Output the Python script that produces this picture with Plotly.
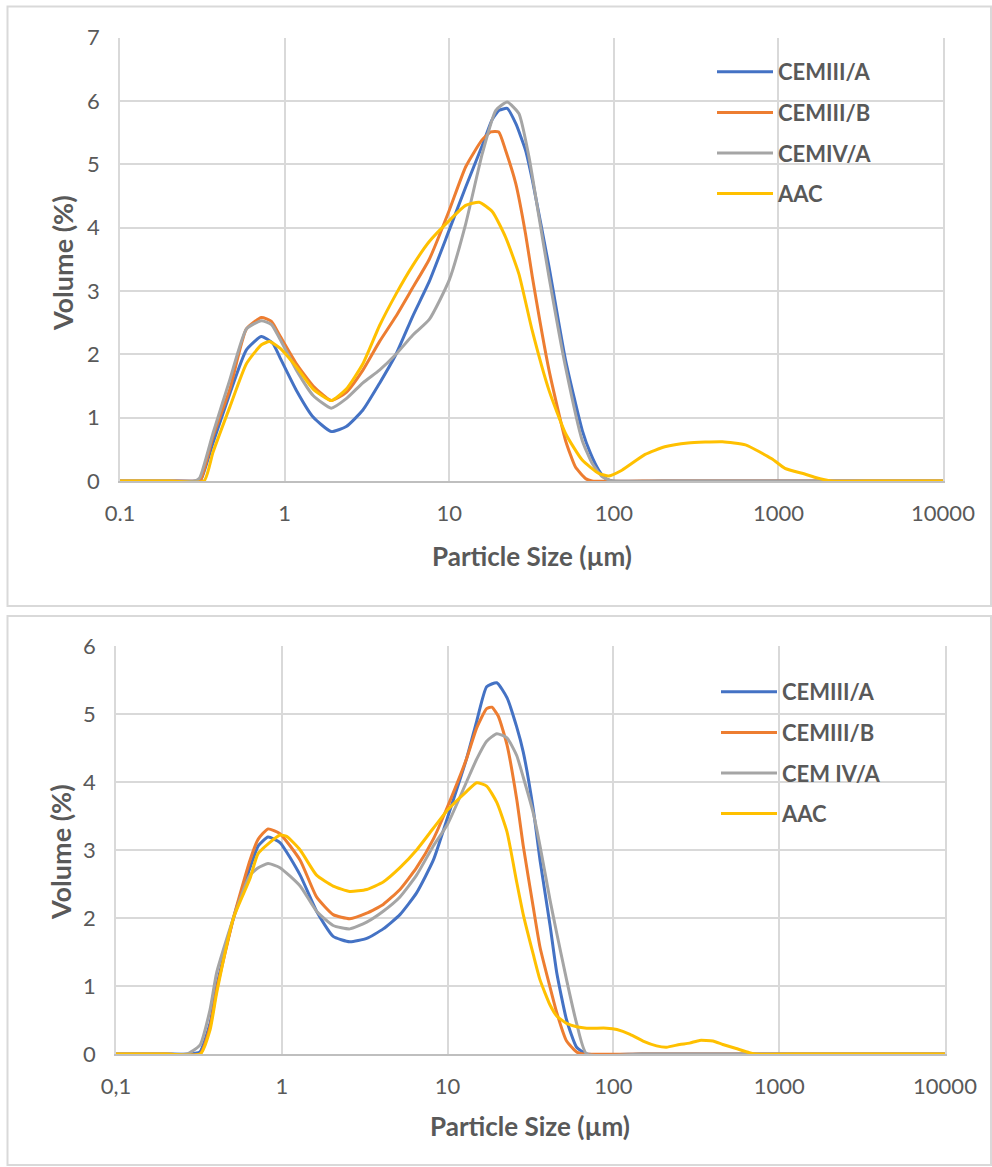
import plotly.graph_objects as go

# ---------------- data: top panel ----------------
top_cem3a_size = [0.1, 0.2, 0.295, 0.31, 0.367, 0.465, 0.586, 0.723, 0.849, 0.933, 1.18, 1.49, 1.92, 2.37, 2.99, 3.77, 4.75, 6.0, 7.57, 10.0, 12.6, 15.9, 18.2, 20.1, 22.5, 25.4, 29.1, 32.0, 40.4, 50.9, 64.3, 72.1, 81.1, 89.1, 97.7, 200, 1000, 10000]
top_cem3a_vol  = [0, 0, 0, 0.02, 0.6, 1.38, 2.07, 2.28, 2.17, 1.96, 1.43, 1.01, 0.78, 0.86, 1.12, 1.54, 2.0, 2.6, 3.15, 3.96, 4.64, 5.3, 5.7, 5.85, 5.88, 5.64, 5.22, 4.75, 3.38, 1.91, 0.8, 0.44, 0.17, 0.04, 0, 0, 0, 0]

top_cem3b_size = [0.1, 0.2, 0.295, 0.31, 0.367, 0.465, 0.586, 0.723, 0.832, 0.933, 1.18, 1.49, 1.92, 2.37, 2.99, 3.77, 4.75, 6.0, 7.57, 10.0, 12.6, 15.8, 17.9, 20.0, 22.0, 25.4, 29.1, 32.0, 40.4, 50.9, 58.5, 67.3, 73.8, 150, 1000, 10000]
top_cem3b_vol  = [0, 0, 0, 0.02, 0.7, 1.45, 2.4, 2.58, 2.52, 2.3, 1.85, 1.5, 1.27, 1.4, 1.75, 2.2, 2.6, 3.05, 3.5, 4.27, 4.96, 5.38, 5.51, 5.51, 5.22, 4.69, 3.9, 3.22, 1.75, 0.64, 0.22, 0.04, 0, 0, 0, 0]

top_cem4a_size = [0.1, 0.2, 0.285, 0.305, 0.367, 0.465, 0.586, 0.723, 0.832, 0.933, 1.18, 1.49, 1.92, 2.37, 2.99, 3.77, 4.75, 6.0, 7.57, 10.0, 12.6, 15.9, 19.2, 22.5, 26.5, 30.5, 35.1, 40.4, 50.9, 64.3, 73.8, 84.9, 97.7, 200, 1000, 10000]
top_cem4a_vol  = [0, 0, 0, 0.05, 0.75, 1.6, 2.4, 2.53, 2.47, 2.25, 1.75, 1.35, 1.15, 1.3, 1.55, 1.75, 2.0, 2.3, 2.55, 3.17, 4.06, 5.17, 5.85, 5.98, 5.8, 5.12, 4.17, 3.22, 1.8, 0.64, 0.28, 0.07, 0, 0, 0, 0]

top_aac_size = [0.1, 0.2, 0.324, 0.367, 0.465, 0.586, 0.723, 0.811, 0.933, 1.18, 1.49, 1.92, 2.37, 2.99, 3.77, 4.75, 6.0, 7.57, 10.0, 12.6, 15.2, 18.3, 22.0, 26.5, 31.9, 40.4, 50.9, 64.3, 81.1, 93.3, 112, 155, 204, 282, 457, 631, 912, 1096, 1445, 1660, 2089, 4000, 10000]
top_aac_vol  = [0, 0, 0, 0.45, 1.17, 1.85, 2.15, 2.2, 2.1, 1.8, 1.45, 1.27, 1.45, 1.85, 2.45, 2.95, 3.4, 3.78, 4.11, 4.35, 4.4, 4.25, 3.85, 3.27, 2.38, 1.43, 0.75, 0.33, 0.12, 0.08, 0.17, 0.42, 0.54, 0.6, 0.62, 0.57, 0.35, 0.2, 0.11, 0.06, 0, 0, 0]

# ---------------- data: bottom panel ----------------
bot_cem3a_size = [0.1, 0.2, 0.28, 0.321, 0.369, 0.405, 0.511, 0.643, 0.721, 0.826, 0.975, 1.29, 1.62, 2.04, 2.57, 3.25, 4.09, 5.16, 6.5, 8.2, 10.0, 13.0, 15.0, 17.2, 19.8, 22.8, 26.1, 28.6, 32.9, 36.1, 41.5, 45.5, 52.2, 60.0, 69.0, 150, 1000, 10000]
bot_cem3a_vol  = [0, 0, 0, 0.03, 0.45, 1.0, 2.0, 2.74, 3.06, 3.19, 3.11, 2.63, 2.1, 1.73, 1.65, 1.7, 1.84, 2.05, 2.37, 2.85, 3.48, 4.34, 4.9, 5.4, 5.46, 5.24, 4.81, 4.44, 3.59, 2.85, 1.89, 1.2, 0.5, 0.1, 0, 0, 0, 0]

bot_cem3b_size = [0.1, 0.2, 0.321, 0.369, 0.405, 0.511, 0.643, 0.721, 0.826, 0.975, 1.29, 1.62, 2.04, 2.57, 3.25, 4.09, 5.16, 6.5, 8.2, 10.0, 13.0, 15.0, 17.2, 18.5, 20.2, 22.8, 26.1, 28.6, 32.9, 36.1, 41.5, 45.5, 52.2, 60.0, 65.8, 150, 1000, 10000]
bot_cem3b_vol  = [0, 0, 0, 0.4, 0.95, 2.0, 2.85, 3.16, 3.31, 3.24, 2.85, 2.31, 2.05, 1.99, 2.07, 2.2, 2.42, 2.74, 3.16, 3.64, 4.34, 4.8, 5.08, 5.1, 4.97, 4.55, 3.75, 3.06, 2.15, 1.57, 0.98, 0.61, 0.19, 0.03, 0, 0, 0, 0]

bot_cem4a_size = [0.1, 0.2, 0.267, 0.321, 0.369, 0.405, 0.511, 0.643, 0.721, 0.826, 0.975, 1.29, 1.62, 2.04, 2.57, 3.25, 4.09, 5.16, 6.5, 8.2, 10.0, 13.0, 15.0, 17.2, 19.8, 22.8, 26.1, 28.6, 32.9, 36.1, 41.5, 45.5, 52.2, 60.0, 69.0, 150, 1000, 10000]
bot_cem4a_vol  = [0, 0, 0, 0.13, 0.65, 1.2, 2.0, 2.63, 2.74, 2.8, 2.74, 2.47, 2.1, 1.89, 1.84, 1.94, 2.1, 2.31, 2.63, 3.06, 3.38, 4.0, 4.34, 4.6, 4.71, 4.65, 4.39, 4.07, 3.54, 3.06, 2.26, 1.78, 1.09, 0.45, 0, 0, 0, 0]

bot_aac_size = [0.1, 0.2, 0.323, 0.369, 0.405, 0.511, 0.643, 0.721, 0.975, 1.07, 1.29, 1.62, 2.04, 2.57, 3.25, 4.09, 5.16, 6.5, 8.2, 10.0, 13.0, 15.0, 17.2, 19.8, 22.8, 26.1, 28.6, 32.9, 36.1, 41.5, 45.5, 52.2, 60.0, 69.0, 91.0, 105, 126, 151, 182, 209, 251, 288, 331, 398, 457, 550, 661, 724, 1500, 10000]
bot_aac_vol  = [0, 0, 0, 0.35, 0.9, 2.0, 2.58, 2.95, 3.22, 3.2, 3.0, 2.63, 2.47, 2.39, 2.42, 2.53, 2.74, 3.0, 3.32, 3.59, 3.86, 3.99, 3.94, 3.7, 3.27, 2.53, 2.05, 1.46, 1.09, 0.72, 0.56, 0.45, 0.4, 0.38, 0.38, 0.36, 0.29, 0.19, 0.12, 0.1, 0.14, 0.16, 0.2, 0.19, 0.14, 0.08, 0.02, 0, 0, 0]

top_names = ["CEMIII/A", "CEMIII/B", "CEMIV/A", "AAC"]
bot_names = ["CEMIII/A", "CEMIII/B", "CEM IV/A", "AAC"]
colors = ["#4472C4", "#ED7D31", "#A5A5A5", "#FFC000"]

x_tickvals = [0.1, 1, 10, 100, 1000, 10000]
top_ticktext = ["0.1", "1", "10", "100", "1000", "10000"]
bot_ticktext = ["0,1", "1", "10", "100", "1000", "10000"]

W, H = 992, 1167
FONT = "Lato"
TXT = "#595959"
GRID = "#d9d9d9"

fig = go.Figure()
top_series = [(top_cem3a_size, top_cem3a_vol), (top_cem3b_size, top_cem3b_vol),
              (top_cem4a_size, top_cem4a_vol), (top_aac_size, top_aac_vol)]
bot_series = [(bot_cem3a_size, bot_cem3a_vol), (bot_cem3b_size, bot_cem3b_vol),
              (bot_cem4a_size, bot_cem4a_vol), (bot_aac_size, bot_aac_vol)]

for i, (xs, ys) in enumerate(top_series):
    fig.add_trace(go.Scatter(x=xs, y=ys, mode="lines", name=top_names[i],
                             line=dict(color=colors[i], width=3, shape="spline", smoothing=0.5),
                             xaxis="x", yaxis="y", legend="legend", legendgroup="t%d" % i))
for i, (xs, ys) in enumerate(bot_series):
    fig.add_trace(go.Scatter(x=xs, y=ys, mode="lines", name=bot_names[i],
                             line=dict(color=colors[i], width=3, shape="spline", smoothing=0.5),
                             xaxis="x2", yaxis="y2", legend="legend2", legendgroup="b%d" % i))

def px(x):
    return x / W

def py(y):
    return 1 - y / H

xcommon = dict(type="log", range=[-1, 4], tickvals=x_tickvals, showgrid=True, gridcolor=GRID,
               gridwidth=1.5, showline=True, linecolor="#bfbfbf", linewidth=1.5, mirror=False,
               ticks="outside", ticklen=12, tickcolor="rgba(0,0,0,0)", zeroline=False,
               automargin=False, tickfont=dict(family=FONT, size=22, color=TXT))
ycommon = dict(dtick=1, showgrid=True, gridcolor=GRID, gridwidth=1.5, showline=True,
               linecolor=GRID, linewidth=1.5, mirror=True, zeroline=False,
               ticks="outside", ticklen=14, tickcolor="rgba(0,0,0,0)", automargin=False,
               tickfont=dict(family=FONT, size=22, color=TXT))

LEGFONT = dict(family=FONT, size=22, color=TXT, weight="bold")
TITLEFONT = dict(family=FONT, size=26, color=TXT)
YTITLEFONT = dict(family=FONT, size=27, color=TXT)

fig.update_layout(
    width=W, height=H, margin=dict(l=0, r=0, t=0, b=0, pad=0, autoexpand=False),
    paper_bgcolor="white", plot_bgcolor="white",
    xaxis=dict(domain=[px(120), px(943)], anchor="y", ticktext=top_ticktext, **xcommon),
    yaxis=dict(domain=[py(481), py(37.5)], anchor="x", range=[0, 7], **ycommon),
    xaxis2=dict(domain=[px(116), px(945)], anchor="y2", ticktext=bot_ticktext, **xcommon),
    yaxis2=dict(domain=[py(1054), py(646)], anchor="x2", range=[0, 6], **ycommon),
    legend=dict(x=px(712), y=py(51), xanchor="left", yanchor="top", bgcolor="rgba(0,0,0,0)",
                font=LEGFONT, tracegroupgap=9, itemwidth=56),
    legend2=dict(x=px(716), y=py(671), xanchor="left", yanchor="top", bgcolor="rgba(0,0,0,0)",
                 font=LEGFONT, tracegroupgap=9, itemwidth=56),
    shapes=[
        dict(type="rect", xref="paper", yref="paper", x0=px(7.5), x1=px(991), y0=py(606), y1=py(6.5),
             line=dict(color=GRID, width=2), layer="below"),
        dict(type="rect", xref="paper", yref="paper", x0=px(7.5), x1=px(991), y0=py(1165), y1=py(616),
             line=dict(color=GRID, width=2), layer="below"),
    ],
    annotations=[
        dict(text="<b>Particle Size (µm)</b>", xref="paper", yref="paper", x=px(532), y=py(556),
             xanchor="center", yanchor="middle", showarrow=False, font=TITLEFONT),
        dict(text="<b>Volume (%)</b>", xref="paper", yref="paper", x=px(63), y=py(263),
             xanchor="center", yanchor="middle", showarrow=False, textangle=-90, font=YTITLEFONT),
        dict(text="<b>Particle Size (µm)</b>", xref="paper", yref="paper", x=px(530), y=py(1126),
             xanchor="center", yanchor="middle", showarrow=False, font=TITLEFONT),
        dict(text="<b>Volume (%)</b>", xref="paper", yref="paper", x=px(60), y=py(852),
             xanchor="center", yanchor="middle", showarrow=False, textangle=-90, font=YTITLEFONT),
    ],
)

fig.write_html("out.html")
